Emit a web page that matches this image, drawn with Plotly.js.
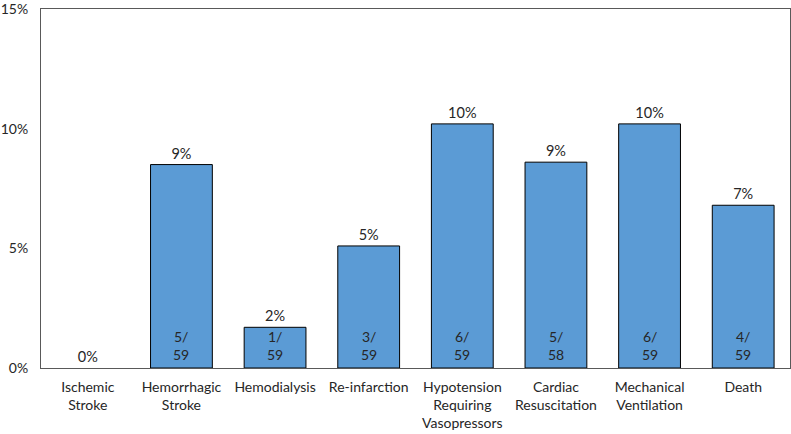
<!DOCTYPE html>
<html>
<head>
<meta charset="utf-8">
<script src="https://cdn.plot.ly/plotly-3.0.1.min.js"></script>
<style>html,body{margin:0;padding:0;background:#fff;}#chart{width:791px;height:434px;}</style>
</head>
<body>
<div id="chart"></div>
<script>
const categories = ["Ischemic<br>Stroke", "Hemorrhagic<br>Stroke", "Hemodialysis", "Re-infarction", "Hypotension<br>Requiring<br>Vasopressors", "Cardiac<br>Resuscitation", "Mechanical<br>Ventilation", "Death"];
const percentValues = [0, 8.5, 1.7, 5.1, 10.2, 8.6, 10.2, 6.8];
const percentLabels = ["0%", "9%", "2%", "5%", "10%", "9%", "10%", "7%"];
const eventCounts = [0, 5, 1, 3, 6, 5, 6, 4];
const patientTotals = [59, 59, 59, 59, 59, 58, 59, 59];
const yTickValues = [0, 5, 10, 15];
const yTickLabels = ["0%", "5%", "10%", "15%"];

const fontFamily = "Lato, 'Open Sans', sans-serif";
const textColor = "#262626";

const trace = {
  type: "bar",
  x: categories,
  y: percentValues,
  text: percentLabels,
  textposition: "outside",
  cliponaxis: false,
  textfont: {family: fontFamily, size: 14.5, color: textColor},
  marker: {color: "#5B9BD5", line: {color: "#000000", width: percentValues.map(v => v > 0 ? 1 : 0)}},
  hoverinfo: "none"
};

const annotations = [];
categories.forEach((c, i) => {
  if (eventCounts[i] > 0) {
    annotations.push({
      x: c, y: 0, xref: "x", yref: "y",
      text: eventCounts[i] + "/<br>" + patientTotals[i],
      showarrow: false,
      yanchor: "bottom",
      yshift: 3,
      font: {family: fontFamily, size: 14, color: textColor}
    });
  }
});

const layout = {
  width: 791, height: 434,
  margin: {l: 41, r: 1, t: 9, b: 66},
  paper_bgcolor: "#ffffff",
  plot_bgcolor: "#ffffff",
  showlegend: false,
  bargap: 0.34,
  font: {family: fontFamily, size: 14, color: textColor},
  xaxis: {
    type: "category",
    showline: true, mirror: true, linecolor: "#595959", linewidth: 1,
    showgrid: false, ticks: "",
    ticklabelstandoff: 6,
    tickfont: {family: fontFamily, size: 14, color: textColor},
    automargin: false
  },
  yaxis: {
    range: [0, 15],
    tickvals: yTickValues,
    ticktext: yTickLabels,
    showline: true, mirror: true, linecolor: "#595959", linewidth: 1,
    showgrid: false, zeroline: false, ticks: "",
    ticklabelstandoff: 9,
    ticklabeloverflow: "allow",
    tickfont: {family: fontFamily, size: 14, color: textColor},
    automargin: false
  },
  annotations: annotations
};

Plotly.newPlot("chart", [trace], layout, {displayModeBar: false, staticPlot: true});
</script>
</body>
</html>
